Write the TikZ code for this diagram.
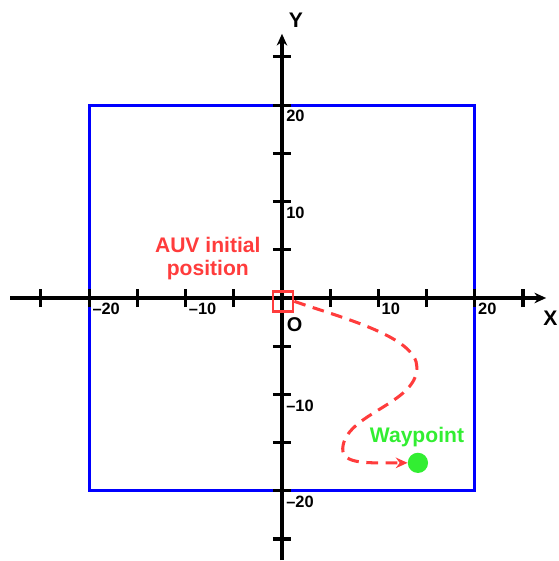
\documentclass[tikz,border=0pt]{standalone}
\usepackage{fontspec}
\setmainfont{Liberation Sans}
\usetikzlibrary{arrows.meta}

\definecolor{auvred}{RGB}{255,60,60}
\definecolor{wpgreen}{RGB}{50,238,50}

\begin{document}
\begin{tikzpicture}[x=0.2892cm,y=0.2892cm,
    axis/.style={line width=2.8pt,-{Stealth[length=10pt,width=9pt]}},
    tickmark/.style={line width=2.6pt},
    ticklabel/.style={font=\fontsize{14}{14}\selectfont\bfseries,inner sep=1pt},
    biglabel/.style={font=\fontsize{18}{20}\selectfont\bfseries,inner sep=0pt}]
  \useasboundingbox (-29.25,-27.28) rectangle (28.63,30.91);
  % region boundary
  \draw[blue,line width=2.6pt] (-20,-20) rectangle (20,20);
  % axes
  \coordinate (xs) at (-28.2,0);
  \coordinate (xe) at (27.4,0);
  \coordinate (ys) at (0,-27.2);
  \coordinate (ye) at (0,27.4);
  \draw[axis] (xs) -- (xe);
  \draw[axis] (ys) -- (ye);
  \foreach \v in {-25,-20,...,25} {
    \ifnum\v=0\else
      \draw[tickmark] (\v,-0.95) -- (\v,0.95);
      \draw[tickmark] (-0.95,\v) -- (0.95,\v);
    \fi
  }
  \foreach \v/\t in {-20/–20,-10/–10,10/10,20/20} {
    \node[ticklabel,anchor=north west] (xl\v) at (\v+0.2,-0.35) {\t};
    \node[ticklabel,anchor=north west] (yl\v) at (0.3,\v-0.4) {\t};
  }
  \node[biglabel] (xlab) at (27.85,-2.1) {X};
  \node[biglabel] (ylab) at (1.45,28.8) {Y};
  \node[ticklabel,font=\fontsize{17}{17}\selectfont\bfseries] (orig) at (1.3,-2.8) {O};
  % AUV start and waypoint
  \node[draw=auvred,line width=2.2pt,minimum size=0.2892cm*2.1,inner sep=0pt] (auv) at (0.1,-0.35) {};
  \node[auvred,biglabel,align=center] (auvlab) at (-7.7,4.1) {AUV initial\\position};
  \node[circle,fill=wpgreen,minimum size=0.2892cm*2.1,inner sep=0pt] (wp) at (14.1,-17.1) {};
  \node[wpgreen,biglabel] (wplab) at (14.0,-14.4) {Waypoint};
  % planned path
  \draw[auvred,line width=2.6pt,dash pattern=on 10pt off 6.5pt,-{Stealth[length=10pt,width=9pt]}]
    (auv.east) .. controls (6,-2) and (14,-4) .. (14,-7.2)
    .. controls (14,-11) and (6.5,-12) .. (6.3,-15.6)
    .. controls (6.2,-17.3) and (9,-17.1) .. (wp.west);
\end{tikzpicture}
\end{document}
